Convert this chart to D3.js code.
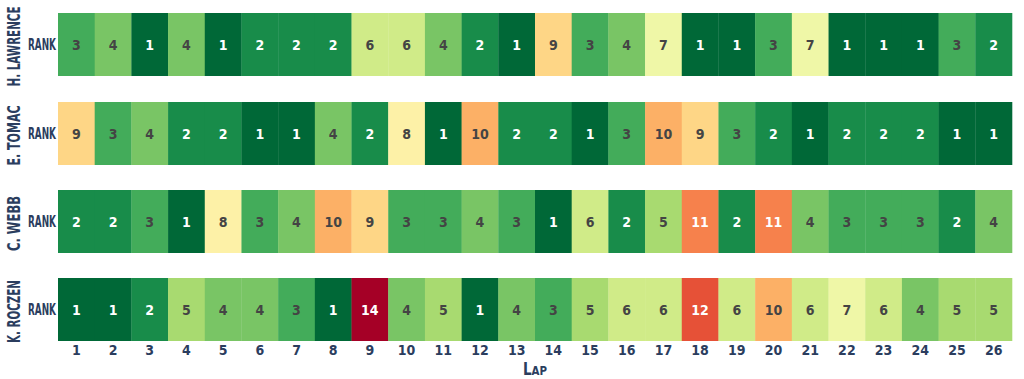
<!DOCTYPE html>
<html>
<head>
<meta charset="utf-8">
<script src="https://cdn.jsdelivr.net/npm/d3@7"></script>
<style>
  body { margin: 0; background: #fff; }
  text { font-family: "Liberation Sans Narrow", "DejaVu Sans Condensed", sans-serif; font-stretch: condensed; font-weight: bold; }
</style>
</head>
<body>
<svg width="1024" height="379"></svg>
<script>
// lap numbers on the x axis
var laps = d3.range(1, 27);

// riders, top to bottom
var riders = ['H. LAWRENCE', 'E. TOMAC', 'C. WEBB', 'K. ROCZEN'];

// rank per lap for each rider
var lawrence = [3,4,1,4,1,2,2,2,6,6,4,2,1,9,3,4,7,1,1,3,7,1,1,1,3,2];
var tomac    = [9,3,4,2,2,1,1,4,2,8,1,10,2,2,1,3,10,9,3,2,1,2,2,2,1,1];
var webb     = [2,2,3,1,8,3,4,10,9,3,3,4,3,1,6,2,5,11,2,11,4,3,3,3,2,4];
var roczen   = [1,1,2,5,4,4,3,1,14,4,5,1,4,3,5,6,6,12,6,10,6,7,6,4,5,5];

var ranks = [lawrence, tomac, webb, roczen];

// printed length of the rotated names
var nameLen = [80, 60, 55, 63];

var navy = '#2b3d5e';
var svg = d3.select('svg');

var margin = { left: 58, right: 12 };
var rowTops = [13, 102, 190, 278];
var rowH = 63;

var x = d3.scaleBand()
    .domain(laps)
    .range([margin.left, 1024 - margin.right])
    .padding(0);

var color = d3.scaleSequential(function(t) { return d3.interpolateRdYlGn(1 - t); })
    .domain([1, 14]);

riders.forEach(function(name, r) {
    var y0 = rowTops[r];
    var data = ranks[r].map(function(v, i) { return { lap: laps[i], rank: v }; });
    var g = svg.append('g');

    g.selectAll('rect')
        .data(data)
        .enter()
        .append('rect')
        .attr('x', d => x(d.lap))
        .attr('y', y0)
        .attr('width', x.bandwidth() + 0.3)
        .attr('height', rowH)
        .attr('fill', d => color(d.rank));

    g.selectAll('text.val')
        .data(data)
        .enter()
        .append('text')
        .attr('class', 'val')
        .attr('x', d => x(d.lap) + x.bandwidth() / 2)
        .attr('y', y0 + rowH / 2)
        .attr('dy', '0.36em')
        .attr('text-anchor', 'middle')
        .attr('font-size', 14)
        .attr('fill', d => (d.rank <= 2 || d.rank >= 11) ? '#ffffff' : '#444444')
        .text(d => d.rank);

    // "RANK" label
    svg.append('text')
        .attr('x', 28)
        .attr('y', y0 + rowH / 2)
        .attr('dy', '0.36em')
        .attr('font-size', 16)
        .attr('textLength', 28)
        .attr('lengthAdjust', 'spacingAndGlyphs')
        .attr('fill', navy)
        .text('RANK');

    // rider name, rotated
    svg.append('text')
        .attr('transform', 'translate(' + 20 + ',' + (y0 + rowH / 2 + 2) + ') rotate(-90)')
        .attr('x', -nameLen[r] / 2)
        .attr('font-size', 18)
        .attr('textLength', nameLen[r])
        .attr('lengthAdjust', 'spacingAndGlyphs')
        .attr('fill', navy)
        .text(name);
});

// x axis (lap numbers)
var xAxis = svg.append('g')
    .attr('transform', 'translate(0,' + (rowTops[3] + rowH) + ')')
    .call(d3.axisBottom(x).tickSize(0).tickPadding(4));
xAxis.select('.domain').remove();
xAxis.selectAll('text')
    .attr('font-size', 14)
    .attr('fill', navy)
    .style('font-family', '"Liberation Sans Narrow", "DejaVu Sans Condensed", sans-serif')
    .style('font-weight', 'bold');

svg.append('text')
    .attr('x', (margin.left + 1024 - margin.right) / 2 - 12)
    .attr('y', 375)
    .attr('fill', navy)
    .attr('font-size', 17)
    .attr('textLength', 24)
    .attr('lengthAdjust', 'spacingAndGlyphs')
    .html('L<tspan font-size="13">AP</tspan>');
</script>
</body>
</html>
